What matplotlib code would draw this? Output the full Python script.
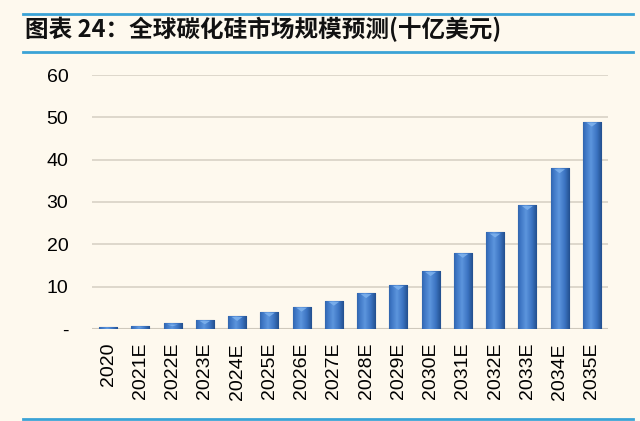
import matplotlib
matplotlib.use("Agg")
import matplotlib.pyplot as plt
import numpy as np
from matplotlib.lines import Line2D
from matplotlib.colors import LinearSegmentedColormap

categories = ["2020", "2021E", "2022E", "2023E", "2024E", "2025E", "2026E", "2027E",
              "2028E", "2029E", "2030E", "2031E", "2032E", "2033E", "2034E", "2035E"]
values = [0.4, 0.7, 1.3, 2.2, 3.1, 4.1, 5.3, 6.7, 8.5, 10.4, 13.7, 18.0, 22.8, 29.3, 38.0, 49.0]
yticks = [0, 10, 20, 30, 40, 50, 60]
ytick_labels = ["-", "10", "20", "30", "40", "50", "60"]
title = "图表 24：全球碳化硅市场规模预测(十亿美元)"

bg = "#FEF9EE"
plt.rcParams['font.family'] = ['Liberation Sans', 'DejaVu Sans']

fig = plt.figure(figsize=(6.4, 4.21), dpi=100, facecolor=bg)
ax = fig.add_axes([92/640, 1-329/421, 516/640, 254/421], facecolor=bg)

x = np.arange(len(categories))
bars = ax.bar(x, values, width=0.56, color="#3A6DB5", edgecolor="#244F8C", linewidth=0.8, zorder=3)

# cylinder-like horizontal gradient inside each bar
grad = np.linspace(0, 1, 64)
shade = 1 - np.abs(grad - 0.42) * 1.6
cmap = LinearSegmentedColormap.from_list("cyl", ["#1E4A86", "#3C74C2", "#5C95DD"])
for b in bars:
    x0, w, h = b.get_x(), b.get_width(), b.get_height()
    im = ax.imshow(shade[np.newaxis, :], cmap=cmap, aspect="auto",
                   extent=(x0, x0 + w, 0, h), zorder=4, vmin=0, vmax=1)
    im.set_clip_path(b)
    cap = min(1.2, h * 0.5)
    ax.fill([x0 + w*0.2, x0 + w*0.8, x0 + w*0.5], [h - 0.25, h - 0.25, h - cap],
            color="#7FB3EE", zorder=5, lw=0, alpha=0.85)

ax.set_xlim(-0.5, len(categories) - 0.5)
ax.set_ylim(0, 60)
ax.set_yticks(yticks)
ax.set_yticklabels(ytick_labels, fontsize=14)
ax.set_xticks(x)
ax.set_xticklabels(categories, rotation=90, fontsize=14, va="top")
ax.tick_params(axis="both", length=0)
ax.tick_params(axis="y", pad=17)
ax.tick_params(axis="x", pad=10)
ax.grid(axis="y", color="#D8D2C6", linewidth=1.2, zorder=0)
ax.set_axisbelow(True)
for s in ax.spines.values():
    s.set_visible(False)
ax.axhline(0, color="#CFC9BD", linewidth=1.5, zorder=2)

# header lines and title
line_c = "#3BA3D6"
for yy in (14, 52, 418.5):
    fig.add_artist(Line2D([23/640, 633/640], [1-yy/421, 1-yy/421], color=line_c, lw=2))
fig.text(25/640, 1-29/421, title, fontsize=17, fontweight="bold", style="italic",
         family=['Noto Sans CJK SC', 'DejaVu Sans'], va="center", ha="left", color="#111111")

fig.savefig("out.png", dpi=100, facecolor=bg)
